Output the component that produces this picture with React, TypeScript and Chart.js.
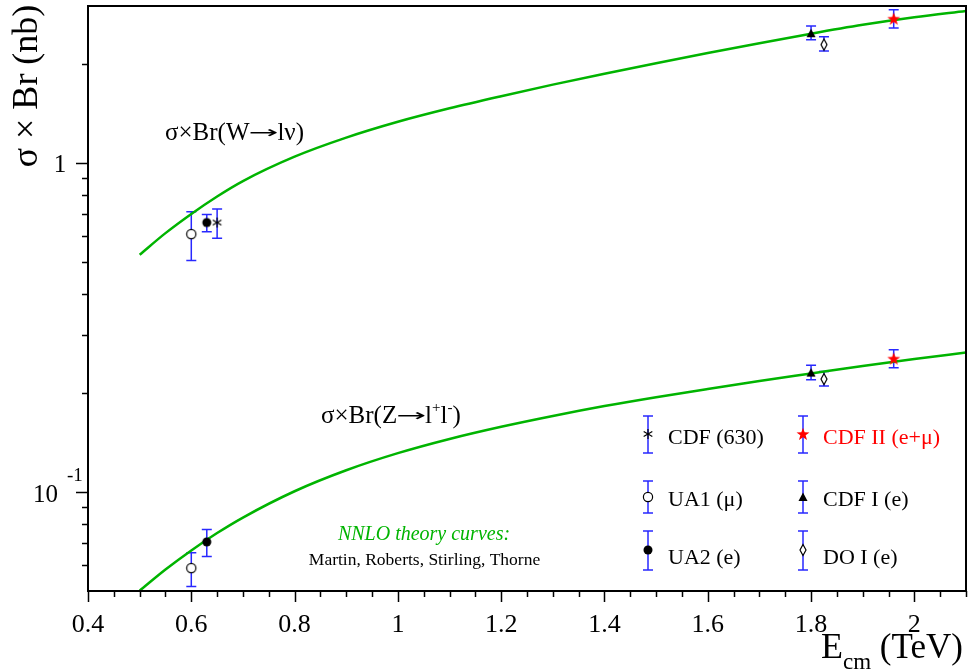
import React, { useEffect, useRef } from 'react';
import { Chart, registerables } from 'chart.js';
Chart.register(...registerables);

// ---------- data ----------
const curveE = [0.5, 0.55, 0.6, 0.65, 0.7, 0.8, 0.9, 1.0, 1.1, 1.2, 1.3, 1.4, 1.5, 1.6, 1.7, 1.8, 1.9, 2.0, 2.1];
const wTheory = [0.526, 0.612, 0.7, 0.791, 0.881, 1.045, 1.194, 1.334, 1.466, 1.596, 1.73, 1.866, 2.009, 2.158, 2.312, 2.472, 2.63, 2.773, 2.897];
const zTheory = [0.0501, 0.0581, 0.0664, 0.075, 0.0836, 0.1005, 0.1164, 0.1312, 0.1449, 0.1578, 0.1702, 0.1824, 0.1941, 0.2056, 0.2173, 0.2291, 0.2415, 0.2535, 0.2655];

const expNames = ['UA1 (μ)', 'UA2 (e)', 'CDF (630)', 'CDF I (e)', 'DO I (e)', 'CDF II (e+μ)'];
const expE = [0.6, 0.63, 0.65, 1.8, 1.825, 1.96];
const wVal = [0.608, 0.659, 0.659, 2.48, 2.29, 2.745];
const wLo = [0.505, 0.618, 0.59, 2.37, 2.19, 2.57];
const wHi = [0.711, 0.697, 0.724, 2.61, 2.42, 2.92];
const zVal = [0.0587, 0.0705, null, 0.2306, 0.2203, 0.2542];
const zLo = [0.0516, 0.0636, null, 0.2192, 0.2098, 0.2387];
const zHi = [0.0654, 0.0769, null, 0.2427, 0.2322, 0.2707];

const xMajor = [0.4, 0.6, 0.8, 1.0, 1.2, 1.4, 1.6, 1.8, 2.0];
const xTickLabels = ['0.4', '0.6', '0.8', '1', '1.2', '1.4', '1.6', '1.8', '2'];
const yMinor = [0.06, 0.07, 0.08, 0.09, 0.2, 0.3, 0.4, 0.5, 0.6, 0.7, 0.8, 0.9, 2];

// ---------- styles ----------
const SERIF = '"Liberation Serif", "Times New Roman", serif';
const SANS = '"DejaVu Sans", sans-serif';
const GREEN = '#00b400';
const BLUE = 'rgb(40,40,255)';
const markerKeys = ['openCircle', 'dot', 'asterisk', 'triangle', 'diamond', 'star'];
const legendOrder = [[2, 0, 1], [5, 3, 4]];

function mk(draw: (g: CanvasRenderingContext2D) => void) {
  const c = document.createElement('canvas');
  c.width = 16; c.height = 16;
  const g = c.getContext('2d')!;
  draw(g);
  return c;
}

function makeMarkers(): Record<string, HTMLCanvasElement> {
  return {
    openCircle: mk(g => { g.beginPath(); g.arc(8, 8, 4.6, 0, Math.PI * 2); g.fillStyle = '#fff'; g.fill(); g.lineWidth = 1.2; g.strokeStyle = '#000'; g.stroke(); }),
    dot: mk(g => { g.beginPath(); g.arc(8, 8, 4.5, 0, Math.PI * 2); g.fillStyle = '#000'; g.fill(); }),
    asterisk: mk(g => {
      g.strokeStyle = '#000'; g.lineWidth = 1.2;
      for (const a of [90, 30, 150]) {
        const r = a * Math.PI / 180;
        g.beginPath(); g.moveTo(8 - 5 * Math.cos(r), 8 - 5 * Math.sin(r)); g.lineTo(8 + 5 * Math.cos(r), 8 + 5 * Math.sin(r)); g.stroke();
      }
    }),
    triangle: mk(g => { g.beginPath(); g.moveTo(8, 3.5); g.lineTo(12.5, 12); g.lineTo(3.5, 12); g.closePath(); g.fillStyle = '#000'; g.fill(); }),
    diamond: mk(g => { g.beginPath(); g.moveTo(8, 2.5); g.lineTo(11, 8); g.lineTo(8, 13.5); g.lineTo(5, 8); g.closePath(); g.fillStyle = '#fff'; g.fill(); g.lineWidth = 1.2; g.strokeStyle = '#000'; g.stroke(); }),
    star: mk(g => {
      g.beginPath();
      for (let i = 0; i < 10; i++) {
        const r = i % 2 === 0 ? 6.8 : 2.8;
        const a = -Math.PI / 2 + i * Math.PI / 5;
        const x = 8 + r * Math.cos(a), y = 8.5 + r * Math.sin(a);
        if (i === 0) g.moveTo(x, y); else g.lineTo(x, y);
      }
      g.closePath(); g.fillStyle = '#ff0000'; g.fill();
    }),
  };
}

type Piece = { t: string; size: number; dy?: number; italic?: boolean; sx?: number; dx?: number; family?: string };
function drawRich(ctx: CanvasRenderingContext2D, pieces: Piece[], x: number, y: number, color = '#000', align: 'left' | 'center' = 'left') {
  ctx.save();
  ctx.fillStyle = color;
  ctx.textBaseline = 'alphabetic';
  ctx.textAlign = 'left';
  const fontOf = (p: Piece) => `${p.italic ? 'italic ' : ''}${p.size}px ${p.family || SERIF}`;
  let total = 0;
  const widths = pieces.map(p => {
    ctx.font = fontOf(p);
    const w = ctx.measureText(p.t).width * (p.sx || 1) + (p.dx || 0);
    total += w; return w;
  });
  let cx = align === 'center' ? x - total / 2 : x;
  pieces.forEach((p, i) => {
    ctx.font = fontOf(p);
    ctx.save();
    ctx.translate(cx + (p.dx || 0) / 2, y + (p.dy || 0));
    ctx.scale(p.sx || 1, 1);
    ctx.fillText(p.t, 0, 0);
    ctx.restore();
    cx += widths[i];
  });
  ctx.restore();
}

const errorBarPlugin = {
  id: 'errbars',
  beforeDatasetsDraw(chart: any) {
    const ctx = chart.ctx; const ys = chart.scales.y;
    ctx.save();
    ctx.strokeStyle = BLUE; ctx.lineWidth = 1.5;
    chart.data.datasets.forEach((ds: any, i: number) => {
      if (!ds.errorBars) return;
      const meta = chart.getDatasetMeta(i);
      meta.data.forEach((pt: any, j: number) => {
        const raw = ds.data[j];
        const px = pt.x;
        const y1 = ys.getPixelForValue(raw.lo), y2 = ys.getPixelForValue(raw.hi);
        ctx.beginPath();
        ctx.moveTo(px, y1); ctx.lineTo(px, y2);
        ctx.moveTo(px - 5, y1); ctx.lineTo(px + 5, y1);
        ctx.moveTo(px - 5, y2); ctx.lineTo(px + 5, y2);
        ctx.stroke();
      });
    });
    ctx.restore();
  },
};

function makeDecorPlugin(markers: Record<string, HTMLCanvasElement>) {
  return {
    id: 'decor',
    afterDraw(chart: any) {
      const ctx: CanvasRenderingContext2D = chart.ctx;
      const a = chart.chartArea; const xs = chart.scales.x; const ys = chart.scales.y;
      ctx.save();
      // frame
      ctx.strokeStyle = '#000'; ctx.lineWidth = 2;
      ctx.strokeRect(a.left, a.top, a.right - a.left, a.bottom - a.top);
      ctx.lineWidth = 1.5;
      // x ticks
      ctx.beginPath();
      for (let v = 0.4; v <= 2.1001; v += 0.05) {
        const px = Math.round(xs.getPixelForValue(v)) + 0.5;
        const major = xMajor.some(m => Math.abs(m - v) < 1e-6);
        ctx.moveTo(px, a.bottom); ctx.lineTo(px, a.bottom + (major ? 11 : 6));
      }
      // y ticks
      for (const v of [1, 0.1]) {
        const py = Math.round(ys.getPixelForValue(v)) + 0.5;
        ctx.moveTo(a.left, py); ctx.lineTo(a.left - 12, py);
      }
      for (const v of yMinor) {
        const py = Math.round(ys.getPixelForValue(v)) + 0.5;
        ctx.moveTo(a.left, py); ctx.lineTo(a.left - 6, py);
      }
      ctx.stroke();
      // x tick labels
      xMajor.forEach((v, i) => {
        drawRich(ctx, [{ t: xTickLabels[i], size: 26 }], xs.getPixelForValue(v), 632, '#000', 'center');
      });
      // y tick labels
      drawRich(ctx, [{ t: '1', size: 25 }], 60, ys.getPixelForValue(1) + 9, '#000', 'center');
      const p01 = ys.getPixelForValue(0.1);
      drawRich(ctx, [{ t: '10', size: 25 }], 33, p01 + 10);
      drawRich(ctx, [{ t: '-1', size: 19 }], 67, p01 - 11);
      // y title
      ctx.save();
      ctx.translate(37, 86); ctx.rotate(-Math.PI / 2);
      drawRich(ctx, [{ t: 'σ × Br (nb)', size: 36 }], 0, 0, '#000', 'center');
      ctx.restore();
      // x title
      drawRich(ctx, [{ t: 'E', size: 36 }, { t: 'cm', size: 23, dy: 11 }, { t: ' (TeV)', size: 35 }], 821, 658);
      // annotations
      const arrow: Piece = { t: '→', size: 17, sx: 2.1, dx: -2, family: SANS, dy: -2 };
      drawRich(ctx, [{ t: 'σ×Br(W', size: 25 }, arrow, { t: 'lν)', size: 25 }], 165, 140);
      drawRich(ctx, [{ t: 'σ×Br(Z', size: 25 }, arrow, { t: 'l', size: 25 }, { t: '+', size: 15, dy: -11 }, { t: 'l', size: 25 }, { t: '-', size: 15, dy: -11 }, { t: ')', size: 25 }], 321, 423);
      drawRich(ctx, [{ t: 'NNLO theory curves:', size: 20, italic: true }], 424, 540, GREEN, 'center');
      drawRich(ctx, [{ t: 'Martin, Roberts, Stirling, Thorne', size: 17.5 }], 424.5, 565, '#000', 'center');
      // legend
      const colX = [648, 803];
      const rows = [
        { m: 434, lo: 416, hi: 453, base: 444 },
        { m: 497, lo: 481, hi: 513, base: 506 },
        { m: 550, lo: 531, hi: 570, base: 564 },
      ];
      colX.forEach((cx, c) => {
        legendOrder[c].forEach((idx, r) => {
          const row = rows[r];
          ctx.strokeStyle = BLUE; ctx.lineWidth = 1.5;
          ctx.beginPath();
          ctx.moveTo(cx, row.lo); ctx.lineTo(cx, row.hi);
          ctx.moveTo(cx - 5, row.lo); ctx.lineTo(cx + 5, row.lo);
          ctx.moveTo(cx - 5, row.hi); ctx.lineTo(cx + 5, row.hi);
          ctx.stroke();
          const img = markers[markerKeys[idx]];
          ctx.drawImage(img, cx - 8, row.m - 8);
          drawRich(ctx, [{ t: expNames[idx], size: 22 }], cx + 20, row.base, idx === 5 ? '#ff0000' : '#000');
        });
      });
      ctx.restore();
    },
  };
}

export default function App() {
  const ref = useRef<HTMLCanvasElement>(null);
  useEffect(() => {
    const canvas = ref.current!;
    const markers = makeMarkers();
    const curve = (vals: number[]) => curveE.map((x, i) => ({ x, y: vals[i] }));
    const expDatasets = expNames.map((name, i) => {
      const pts: any[] = [{ x: expE[i], y: wVal[i], lo: wLo[i], hi: wHi[i] }];
      if (zVal[i] !== null) pts.push({ x: expE[i], y: zVal[i], lo: zLo[i], hi: zHi[i] });
      return {
        label: name,
        data: pts,
        errorBars: true,
        pointStyle: markers[markerKeys[i]],
        pointRadius: 5,
        showLine: false,
        order: 0,
      } as any;
    });
    const chart = new Chart(canvas, {
      type: 'scatter',
      data: {
        datasets: [
          ...expDatasets,
          { label: 'W theory', data: curve(wTheory), showLine: true, borderColor: GREEN, borderWidth: 2.5, pointRadius: 0, cubicInterpolationMode: 'monotone', order: 5 } as any,
          { label: 'Z theory', data: curve(zTheory), showLine: true, borderColor: GREEN, borderWidth: 2.5, pointRadius: 0, cubicInterpolationMode: 'monotone', order: 5 } as any,
        ],
      },
      options: {
        animation: false,
        responsive: false,
        events: [],
        layout: { padding: { left: 88, top: 3, right: 6, bottom: 80 } },
        scales: {
          x: { type: 'linear', min: 0.4, max: 2.1, display: false },
          y: { type: 'logarithmic', min: 0.05, max: 3.0, display: false },
        },
        plugins: { legend: { display: false }, tooltip: { enabled: false } },
      },
      plugins: [errorBarPlugin, makeDecorPlugin(markers)],
    });
    return () => chart.destroy();
  }, []);
  return (
    <div style={{ position: 'fixed', left: 0, top: 0, width: 972, height: 671, background: '#fff' }}>
      <canvas ref={ref} width={972} height={671} style={{ display: 'block', width: 972, height: 671 }} />
    </div>
  );
}
